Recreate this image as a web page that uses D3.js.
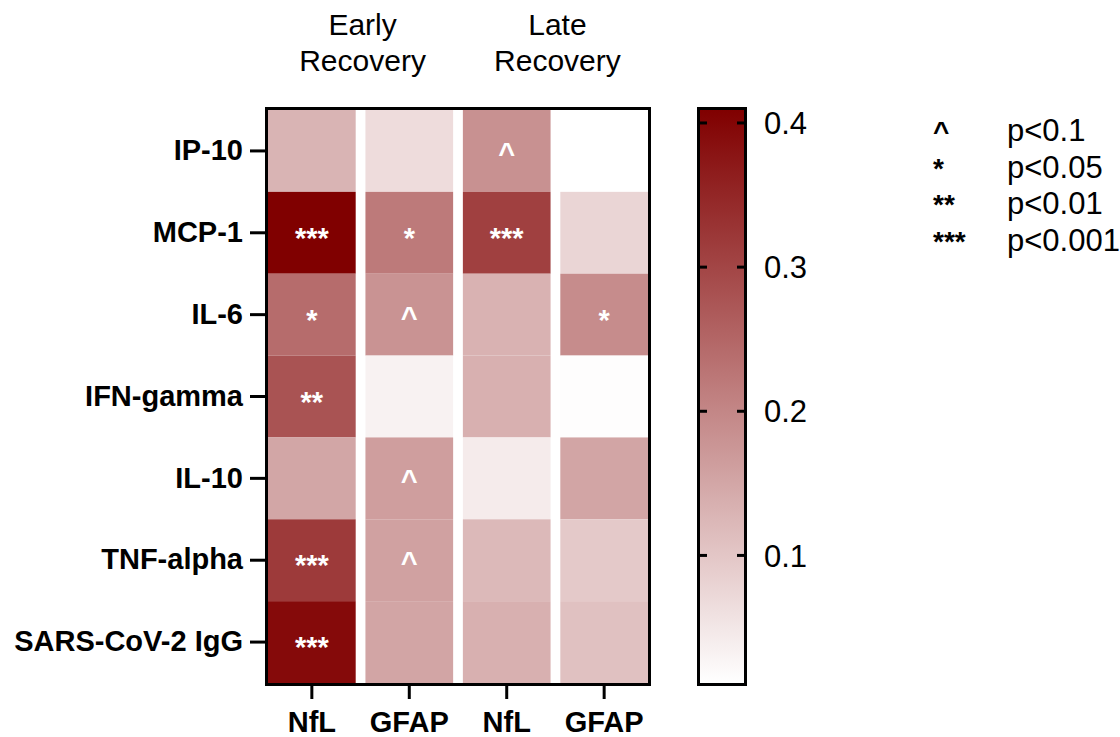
<!DOCTYPE html>
<html>
<head>
<meta charset="utf-8">
<script src="https://cdn.jsdelivr.net/npm/d3@7"></script>
<style>
  html, body { margin: 0; padding: 0; background: #fff; }
  svg { display: block; }
  text { font-family: "Liberation Sans", Arial, Helvetica, sans-serif; }
</style>
</head>
<body>
<svg id="chart" width="1120" height="737"></svg>
<script>
// ---------- data ----------
const rowLabels = ["IP-10", "MCP-1", "IL-6", "IFN-gamma", "IL-10", "TNF-alpha", "SARS-CoV-2 IgG"];
const colLabels = ["NfL", "GFAP", "NfL", "GFAP"];
const groupTitles = [["Early", "Recovery"], ["Late", "Recovery"]];

const earlyNfL  = [0.129, 0.410, 0.241, 0.280, 0.151, 0.319, 0.393];
const earlyGFAP = [0.066, 0.219, 0.180, 0.032, 0.163, 0.158, 0.152];
const lateNfL   = [0.183, 0.310, 0.131, 0.135, 0.042, 0.121, 0.135];
const lateGFAP  = [0.005, 0.077, 0.190, 0.015, 0.152, 0.096, 0.108];

const earlyNfLSig  = ["", "***", "*", "**", "", "***", "***"];
const earlyGFAPSig = ["", "*", "^", "", "^", "^", ""];
const lateNfLSig   = ["^", "***", "", "", "", "", ""];
const lateGFAPSig  = ["", "", "*", "", "", "", ""];

const colorTicks = [0.1, 0.2, 0.3, 0.4];
const colorDomain = [0.0115, 0.409];

const legendSymbols = ["^", "*", "**", "***"];
const legendLabels = ["p<0.1", "p<0.05", "p<0.01", "p<0.001"];

// ---------- build ----------
const series = [earlyNfL, earlyGFAP, lateNfL, lateGFAP];
const sigs = [earlyNfLSig, earlyGFAPSig, lateNfLSig, lateGFAPSig];
const cells = [];
series.forEach((s, c) => s.forEach((v, r) => cells.push({ r, c, v, sig: sigs[c][r] })));

const svg = d3.select("#chart");

const x = d3.scaleBand().domain(d3.range(colLabels.length)).range([268, 648]).paddingInner(0.1).paddingOuter(0);
const y = d3.scaleBand().domain(d3.range(rowLabels.length)).range([110, 683]).padding(0);
const color = d3.scaleLinear().domain(colorDomain).range(["#ffffff", "#800000"]).interpolate(d3.interpolateRgb).clamp(true);

// cells
svg.append("g").selectAll("rect").data(cells).join("rect")
  .attr("x", d => x(d.c))
  .attr("y", d => y(d.r))
  .attr("width", x.bandwidth())
  .attr("height", y.bandwidth())
  .attr("fill", d => color(d.v));

// significance marks
svg.append("g").selectAll("text").data(cells.filter(d => d.sig)).join("text")
  .attr("x", d => x(d.c) + x.bandwidth() / 2)
  .attr("y", d => y(d.r) + y.bandwidth() / 2 + (d.sig === "^" ? 12 : 15))
  .attr("text-anchor", "middle")
  .attr("fill", "#fff")
  .attr("font-weight", "bold")
  .attr("font-size", 29)
  .text(d => d.sig);

// frame
svg.append("rect")
  .attr("x", 266.5).attr("y", 108.5)
  .attr("width", 383).attr("height", 576)
  .attr("fill", "none").attr("stroke", "#000").attr("stroke-width", 3);

// y axis
const yAxis = svg.append("g")
  .attr("transform", "translate(265,0)")
  .call(d3.axisLeft(y).tickSize(15).tickPadding(7).tickFormat(i => rowLabels[i]));
yAxis.select(".domain").remove();
yAxis.selectAll(".tick line").attr("stroke", "#000").attr("stroke-width", 3);
yAxis.selectAll(".tick text").attr("font-size", 29).attr("font-weight", "bold").attr("fill", "#000")
  .attr("font-family", "'Liberation Sans', Arial, sans-serif");

// x axis
const xAxis = svg.append("g")
  .attr("transform", "translate(0,686)")
  .call(d3.axisBottom(x).tickSize(13).tickPadding(12).tickFormat(i => colLabels[i]));
xAxis.select(".domain").remove();
xAxis.selectAll(".tick line").attr("stroke", "#000").attr("stroke-width", 3);
xAxis.selectAll(".tick text").attr("font-size", 29).attr("font-weight", "bold").attr("fill", "#000")
  .attr("font-family", "'Liberation Sans', Arial, sans-serif");

// group titles
groupTitles.forEach((lines, g) => {
  const cx = (x(g * 2) + x(g * 2 + 1) + x.bandwidth()) / 2 + 2;
  const t = svg.append("text").attr("text-anchor", "middle").attr("font-size", 30).attr("fill", "#000");
  lines.forEach((ln, i) => t.append("tspan").attr("x", cx).attr("y", 35 + i * 36).text(ln));
});

// colorbar
const cbX = 700, cbW = 44;
const cy = d3.scaleLinear().domain(colorDomain).range([683, 110]);
const defs = svg.append("defs");
const grad = defs.append("linearGradient").attr("id", "cbgrad")
  .attr("x1", 0).attr("y1", 1).attr("x2", 0).attr("y2", 0);
grad.selectAll("stop").data(d3.range(0, 1.0001, 0.1)).join("stop")
  .attr("offset", d => d)
  .attr("stop-color", d => color(colorDomain[0] + d * (colorDomain[1] - colorDomain[0])));
svg.append("rect").attr("x", cbX).attr("y", 110).attr("width", cbW).attr("height", 573)
  .attr("fill", "url(#cbgrad)");
svg.append("rect").attr("x", cbX - 1.5).attr("y", 108.5).attr("width", cbW + 3).attr("height", 576)
  .attr("fill", "none").attr("stroke", "#000").attr("stroke-width", 3);
const cbTicks = svg.append("g");
colorTicks.forEach(v => {
  cbTicks.append("line").attr("x1", cbX).attr("x2", cbX + 7).attr("y1", cy(v)).attr("y2", cy(v))
    .attr("stroke", "#000").attr("stroke-width", 3);
  cbTicks.append("line").attr("x1", cbX + cbW - 7).attr("x2", cbX + cbW).attr("y1", cy(v)).attr("y2", cy(v))
    .attr("stroke", "#000").attr("stroke-width", 3);
  cbTicks.append("text").attr("x", 764).attr("y", cy(v)).attr("dy", "0.36em")
    .attr("font-size", 31).attr("fill", "#000").text(d3.format(".1f")(v));
});

// legend
const lg = svg.append("g");
legendSymbols.forEach((s, i) => {
  lg.append("text").attr("x", 933).attr("y", 141 + i * 36.5).attr("font-size", 28).attr("font-weight", "bold")
    .attr("fill", "#000").text(s);
  lg.append("text").attr("x", 1007).attr("y", 141 + i * 36.5).attr("font-size", 31)
    .attr("fill", "#000").text(legendLabels[i]);
});
</script>
</body>
</html>
